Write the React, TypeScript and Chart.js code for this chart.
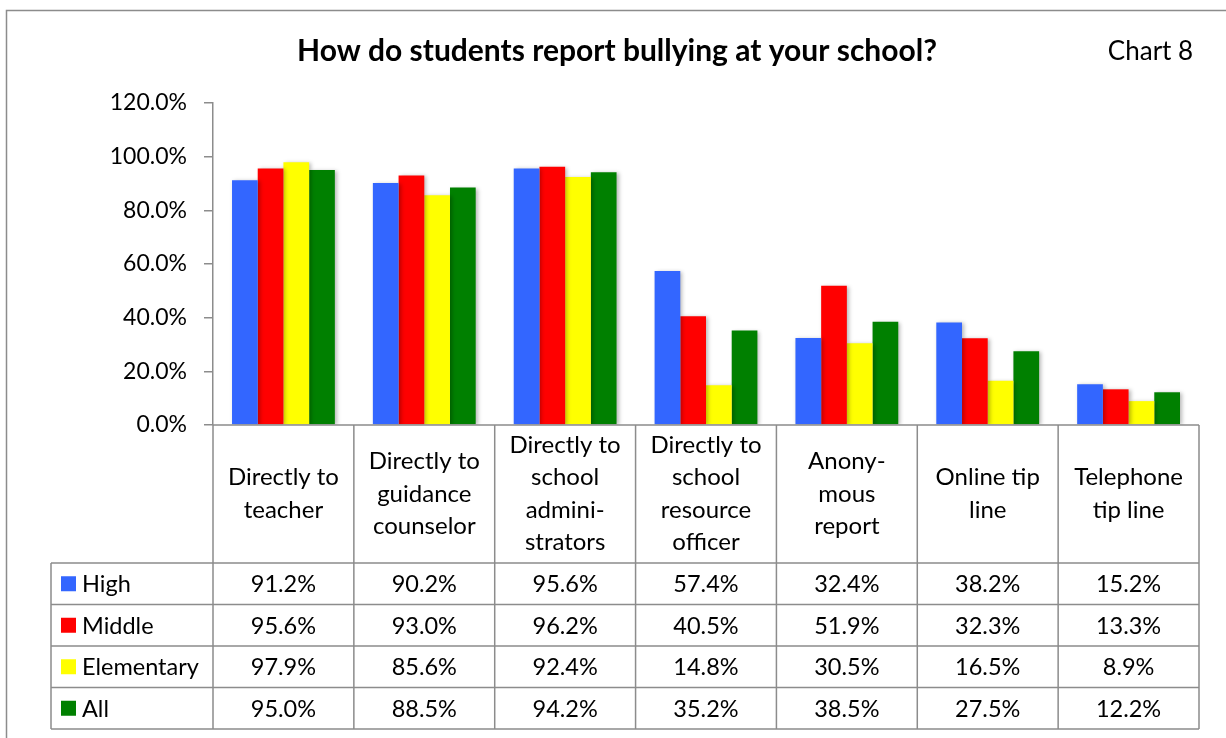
import React, { useEffect, useRef } from "react";
import { Chart, registerables } from "chart.js";

Chart.register(...registerables);

const categories: string[][] = [
  ["Directly to", "teacher"],
  ["Directly to", "guidance", "counselor"],
  ["Directly to", "school", "admini-", "strators"],
  ["Directly to", "school", "resource", "officer"],
  ["Anony-", "mous", "report"],
  ["Online tip", "line"],
  ["Telephone", "tip line"],
];

const high = [91.2, 90.2, 95.6, 57.4, 32.4, 38.2, 15.2];
const middle = [95.6, 93.0, 96.2, 40.5, 51.9, 32.3, 13.3];
const elementary = [97.9, 85.6, 92.4, 14.8, 30.5, 16.5, 8.9];
const all = [95.0, 88.5, 94.2, 35.2, 38.5, 27.5, 12.2];

const seriesNames = ["High", "Middle", "Elementary", "All"];
const seriesColors = ["#3366FF", "#FF0000", "#FFFF00", "#008000"];
const seriesValues = [high, middle, elementary, all];

const titleText = "How do students report bullying at your school?";
const chartLabel = "Chart 8";

const FONT = "Lato, 'Open Sans', sans-serif";
const GRID = "#8c8c8c";

const fmt = (v: number) => v.toFixed(1) + "%";

const decorPlugin = {
  id: "decor",
  beforeDatasetsDraw(chart: any) {
    const ctx = chart.ctx;
    ctx.save();
    ctx.shadowColor = "rgba(0,0,0,0.28)";
    ctx.shadowBlur = 4;
    ctx.shadowOffsetX = 2;
    ctx.shadowOffsetY = 1;
  },
  afterDatasetsDraw(chart: any) {
    chart.ctx.restore();
  },
  afterDraw(chart: any) {
    const ctx = chart.ctx as CanvasRenderingContext2D;
    const area = chart.chartArea;
    const n = categories.length;
    const colW = (area.right - area.left) / n;
    const top = area.bottom;
    const headerBottom = 563;
    const rowH = 41.5;
    const legendLeft = 51;
    const tableBottom = headerBottom + rowH * seriesNames.length;

    ctx.save();
    // outer border
    ctx.strokeStyle = "#8c8c8c";
    ctx.lineWidth = 1.5;
    ctx.strokeRect(6.5, 10.5, 1400, 1000);

    // title
    ctx.fillStyle = "#000";
    ctx.textAlign = "center";
    ctx.textBaseline = "middle";
    ctx.font = `bold 30px ${FONT}`;
    ctx.fillText(titleText, 617, 51);
    ctx.font = `26px ${FONT}`;
    ctx.fillText(chartLabel, 1150.5, 52);

    // table grid
    ctx.strokeStyle = GRID;
    ctx.lineWidth = 1.5;
    ctx.beginPath();
    ctx.moveTo(area.left, top);
    ctx.lineTo(area.right, top);
    for (let r = 0; r <= seriesNames.length; r++) {
      const y = headerBottom + r * rowH;
      ctx.moveTo(legendLeft, y);
      ctx.lineTo(area.right, y);
    }
    for (let c = 0; c <= n; c++) {
      const x = area.left + c * colW;
      ctx.moveTo(x, top);
      ctx.lineTo(x, tableBottom);
    }
    ctx.moveTo(legendLeft, headerBottom);
    ctx.lineTo(legendLeft, tableBottom);
    ctx.stroke();

    // category labels
    ctx.font = `24px ${FONT}`;
    ctx.fillStyle = "#000";
    ctx.textAlign = "center";
    const lineH = 32.5;
    const xScale = chart.scales.x;
    categories.forEach((lines, i) => {
      const cx = xScale.getPixelForValue(i);
      const cy = (top + headerBottom) / 2;
      const start = cy - ((lines.length - 1) * lineH) / 2;
      lines.forEach((t, j) => ctx.fillText(t, cx, start + j * lineH));
    });

    // legend + values
    ctx.font = `23.5px ${FONT}`;
    seriesNames.forEach((name, r) => {
      const cy = headerBottom + r * rowH + rowH / 2;
      ctx.fillStyle = seriesColors[r];
      ctx.fillRect(61, cy - 7.5, 15, 15);
      ctx.fillStyle = "#000";
      ctx.textAlign = "left";
      ctx.fillText(name, 82, cy + 1);
      ctx.textAlign = "center";
      seriesValues[r].forEach((v, i) => {
        ctx.fillText(fmt(v), xScale.getPixelForValue(i), cy + 1);
      });
    });
    ctx.restore();
  },
};

export default function App() {
  const ref = useRef<HTMLCanvasElement>(null);
  useEffect(() => {
    if (!ref.current) return;
    const chart = new Chart(ref.current, {
      type: "bar",
      data: {
        labels: categories.map((c) => c.join(" ")),
        datasets: seriesNames.map((name, i) => ({
          label: name,
          data: seriesValues[i],
          backgroundColor: seriesColors[i],
          borderWidth: 0,
          categoryPercentage: 0.73,
          barPercentage: 1,
        })),
      },
      options: {
        responsive: false,
        animation: false,
        devicePixelRatio: 1,
        layout: { padding: { top: 103, bottom: 313, left: 0, right: 27 } },
        plugins: {
          legend: { display: false },
          title: { display: false },
          tooltip: { enabled: false },
        },
        scales: {
          x: { display: false },
          y: {
            min: 0,
            max: 120,
            afterFit: (s: any) => {
              s.width = 213;
            },
            ticks: {
              stepSize: 20,
              padding: 17,
              color: "#000",
              font: { family: FONT, size: 23 },
              callback: (v: any) => Number(v).toFixed(1) + "%",
            },
            grid: {
              drawOnChartArea: false,
              tickLength: 9,
              color: GRID,
              lineWidth: 1.5,
            },
            border: { display: true, color: GRID, width: 1.5 },
          },
        },
      },
      plugins: [decorPlugin],
    });
    return () => chart.destroy();
  }, []);
  return (
    <div style={{ position: "fixed", left: 0, top: 0, width: 1226, height: 738, background: "#fff" }}>
      <canvas ref={ref} width={1226} height={738} style={{ display: "block" }} />
    </div>
  );
}
